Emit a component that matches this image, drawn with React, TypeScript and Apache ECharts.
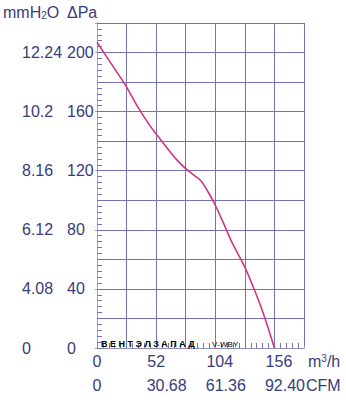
import React, { useEffect, useRef } from "react";
import * as echarts from "echarts";

// Data
const flowM3h = [0, 12, 25, 36, 47, 58, 70, 80, 90.7, 97.7, 103.9, 111.9, 118.9, 128.6, 137.4, 146.1, 156];
const pressurePa = [207, 193, 178, 163, 150, 139, 127.5, 120, 113.7, 105.6, 96.8, 83.3, 71.1, 56.9, 41.3, 23.7, 0];

const paTicks = [0, 40, 80, 120, 160, 200];
const mmH2OLabels = ["0", "4.08", "6.12", "8.16", "10.2", "12.24"];
const m3hTicks = [0, 52, 104, 156];
const cfmLabels = ["0", "30.68", "61.36", "92.40"];

const TEXT = "#363c7c";
const GRID = "#7272b4";
const FONT = "'Liberation Sans', Arial, sans-serif";

export default function App() {
  const ref = useRef<HTMLDivElement>(null);
  useEffect(() => {
    if (!ref.current) return;
    const chart = echarts.init(ref.current, null, { renderer: "svg" });
    const labelStyle = { color: TEXT, fontSize: 16, fontFamily: FONT };
    chart.setOption({
      animation: false,
      backgroundColor: "#ffffff",
      grid: { left: 97, right: 42, top: 23, bottom: 58 },
      xAxis: [
        {
          type: "value",
          position: "bottom",
          min: 0,
          max: 182,
          interval: 26,
          axisLine: { show: true, lineStyle: { color: "#c9c9e2", width: 1 } },
          axisTick: { show: true, inside: true, length: 5, lineStyle: { color: GRID } },
          minorTick: { show: true, splitNumber: 5, length: 5, lineStyle: { color: GRID } },
          splitLine: { show: true, lineStyle: { color: GRID, width: 1 } },
          axisLabel: {
            margin: 5,
            ...labelStyle,
            formatter: (v: number) => {
              const i = m3hTicks.indexOf(v);
              if (i < 0) return "";
              return v >= 100 ? `{s|${v}}` : `{n|${v}}`;
            },
            rich: {
              n: { ...labelStyle },
              s: { ...labelStyle, padding: [0, 0, 0, 9] },
            },
          },
        },
        {
          type: "value",
          position: "bottom",
          offset: 25,
          min: 0,
          max: 182,
          interval: 52,
          axisLine: { show: true, lineStyle: { color: "#8d8db5", width: 1 } },
          axisTick: { show: true, inside: true, length: 3, lineStyle: { color: "#8d8db5" } },
          splitLine: { show: false },
          axisLabel: {
            margin: 4,
            ...labelStyle,
            formatter: (v: number) => {
              const i = m3hTicks.indexOf(v);
              if (i < 0) return "";
              return i === 0 ? `{n|${cfmLabels[i]}}` : `{s|${cfmLabels[i]}}`;
            },
            rich: {
              n: { ...labelStyle },
              s: { ...labelStyle, padding: [0, 0, 0, 21] },
            },
          },
        },
      ],
      yAxis: [
        {
          type: "value",
          position: "left",
          min: 0,
          max: 220,
          interval: 20,
          axisLine: { show: true, lineStyle: { color: GRID, width: 1 } },
          axisTick: { show: true, inside: true, length: 5, lineStyle: { color: GRID } },
          minorTick: { show: true, splitNumber: 5, length: 5, lineStyle: { color: GRID } },
          splitLine: { show: true, showMinLine: false, lineStyle: { color: GRID, width: 1 } },
          axisLabel: {
            margin: 30,
            align: "left",
            ...labelStyle,
            formatter: (v: number) => (paTicks.indexOf(v) >= 0 ? String(v) : ""),
          },
        },
        {
          type: "value",
          position: "left",
          offset: 34,
          min: 0,
          max: 220,
          interval: 40,
          axisLine: { show: true, lineStyle: { color: "#a2a2c2", width: 1 } },
          axisTick: { show: true, inside: false, length: 2, lineStyle: { color: "#a2a2c2" } },
          splitLine: { show: false },
          axisLabel: {
            margin: 41,
            align: "left",
            ...labelStyle,
            formatter: (v: number) => {
              const i = paTicks.indexOf(v);
              return i >= 0 ? mmH2OLabels[i] : "";
            },
          },
        },
      ],
      series: [
        {
          type: "line",
          xAxisIndex: 0,
          yAxisIndex: 0,
          data: flowM3h.map((x, i) => [x, pressurePa[i]]),
          smooth: 0.3,
          showSymbol: false,
          lineStyle: { color: "#d4337f", width: 1.6 },
          z: 5,
        },
      ],
      graphic: [
        {
          type: "text",
          left: 3,
          top: 4,
          style: {
            text: "{a|mmH}{s|2}{a|O}",
            rich: {
              a: { fontSize: 16, fontFamily: FONT, fill: TEXT, color: TEXT },
              s: { fontSize: 10, fontFamily: FONT, fill: TEXT, color: TEXT, padding: [6, 0, 0, 0] },
            },
          },
        },
        {
          type: "text",
          left: 67,
          top: 4,
          style: { text: "\u0394Pa", fontSize: 16, fontFamily: FONT, fill: TEXT },
        },
        {
          type: "text",
          left: 308,
          top: 353,
          style: {
            text: "{a|m}{s|3}{a|/h}",
            rich: {
              a: { fontSize: 16, fontFamily: FONT, fill: TEXT, color: TEXT },
              s: { fontSize: 10, fontFamily: FONT, fill: TEXT, color: TEXT, padding: [0, 0, 7, 0] },
            },
          },
        },
        {
          type: "text",
          left: 306,
          top: 377,
          style: { text: "CFM", fontSize: 16, fontFamily: FONT, fill: TEXT },
        },
        {
          type: "text",
          left: 101,
          top: 339,
          z: 10,
          style: {
            text: "{b|В Е Н Т Э Л }{g|З А П А Д}",
            rich: {
              b: { fontSize: 9, fontWeight: "bold", fontFamily: FONT, color: "#5aa9e0" },
              g: { fontSize: 9, fontWeight: "bold", fontFamily: FONT, color: "#7a7a7a" },
            },
          },
        },
        {
          type: "text",
          left: 212,
          top: 340,
          z: 10,
          style: {
            text: "{b|V}{g|-WBY}",
            rich: {
              b: { fontSize: 8, fontFamily: FONT, color: "#5aa9e0" },
              g: { fontSize: 8, fontFamily: FONT, color: "#8a8a8a" },
            },
          },
        },
      ],
    });
    return () => chart.dispose();
  }, []);
  return (
    <div
      ref={ref}
      style={{ position: "fixed", left: 0, top: 0, width: 346, height: 406, background: "#fff" }}
    />
  );
}
